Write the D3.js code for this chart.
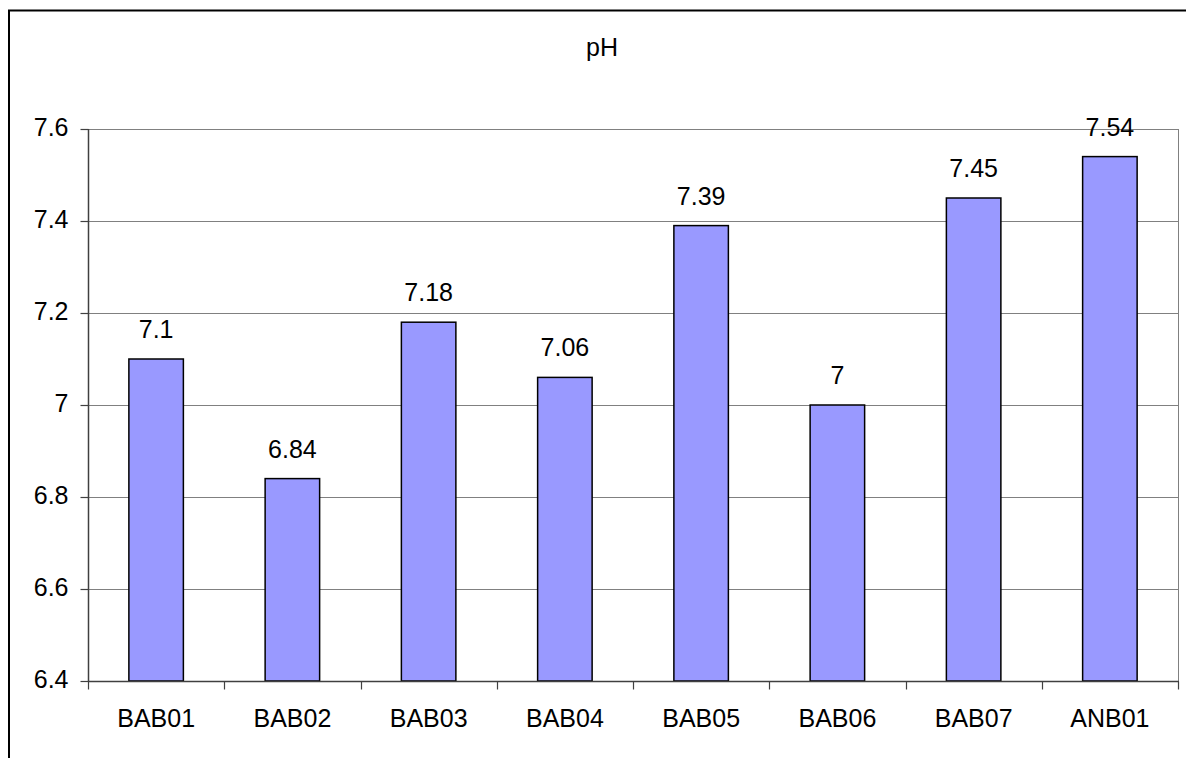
<!DOCTYPE html>
<html>
<head>
<meta charset="utf-8">
<script src="https://cdn.jsdelivr.net/npm/d3@7"></script>
<style>
  html, body { margin: 0; padding: 0; background: #fff; }
  svg { display: block; font-family: "Liberation Sans", Arial, sans-serif; }
</style>
</head>
<body>
<svg id="chart" width="1186" height="758"></svg>
<script>
// pH per sampling site
const sites = ["BAB01", "BAB02", "BAB03", "BAB04", "BAB05", "BAB06", "BAB07", "ANB01"];
const phValues = [7.1, 6.84, 7.18, 7.06, 7.39, 7, 7.45, 7.54];
const phLabels = ["7.1", "6.84", "7.18", "7.06", "7.39", "7", "7.45", "7.54"];
const yTicks = [6.4, 6.6, 6.8, 7, 7.2, 7.4, 7.6];
const yTickLabels = ["6.4", "6.6", "6.8", "7", "7.2", "7.4", "7.6"];
const chartTitle = "pH";

const svg = d3.select("#chart");
const W = 1186, H = 758;
const plot = { left: 88, top: 129, right: 1178, bottom: 681 };
const FS = 25;

// outer frame
svg.append("rect")
  .attr("x", 9).attr("y", 10.5)
  .attr("width", W + 10).attr("height", H + 10)
  .attr("fill", "#fff").attr("stroke", "#000").attr("stroke-width", 2);

svg.append("text")
  .attr("x", 602).attr("y", 56)
  .attr("text-anchor", "middle")
  .attr("font-size", FS)
  .text(chartTitle);

const x = d3.scaleBand().domain(sites).range([plot.left, plot.right]).paddingInner(0.6).paddingOuter(0.3);
const xOuter = d3.scaleBand().domain(sites).range([plot.left, plot.right]).padding(0);
const y = d3.scaleLinear().domain([6.4, 7.6]).range([plot.bottom, plot.top]);

// gridlines
svg.append("g").selectAll("line").data(yTicks.slice(1)).join("line")
  .attr("x1", plot.left).attr("x2", plot.right)
  .attr("y1", d => Math.round(y(d)) + 0.5).attr("y2", d => Math.round(y(d)) + 0.5)
  .attr("stroke", "#808080").attr("stroke-width", 1);

// right edge of plot area
svg.append("line")
  .attr("x1", plot.right + 0.5).attr("x2", plot.right + 0.5)
  .attr("y1", plot.top).attr("y2", plot.bottom)
  .attr("stroke", "#808080").attr("stroke-width", 1);

// bars
svg.append("g").selectAll("rect").data(sites).join("rect")
  .attr("x", (d) => x(d))
  .attr("width", x.bandwidth())
  .attr("y", (d, i) => y(phValues[i]))
  .attr("height", (d, i) => y(6.4) - y(phValues[i]))
  .attr("fill", "#9999FF")
  .attr("stroke", "#000").attr("stroke-width", 1.5);

// value labels
svg.append("g").selectAll("text").data(sites).join("text")
  .attr("x", d => x(d) + x.bandwidth() / 2)
  .attr("y", (d, i) => y(phValues[i]) - 21)
  .attr("text-anchor", "middle")
  .attr("font-size", FS)
  .text((d, i) => phLabels[i]);

// y axis
const yAxis = d3.axisLeft(y).tickValues(yTicks).tickFormat((d, i) => yTickLabels[i]).tickSize(8).tickPadding(12);
const gy = svg.append("g").attr("transform", `translate(${plot.left + 0.5},0)`).call(yAxis);
gy.select(".domain").attr("stroke", "#404040").attr("stroke-width", 1.5).attr("d", `M0,${plot.top}V${plot.bottom}`);
gy.selectAll(".tick line").attr("stroke", "#404040").attr("stroke-width", 1.2);
gy.selectAll(".tick text").attr("font-size", FS).attr("font-family", "Liberation Sans, Arial, sans-serif").attr("fill", "#000").attr("dy", "0.27em");

// x axis
const gx = svg.append("g").attr("transform", `translate(0,${plot.bottom + 0.5})`);
gx.append("line")
  .attr("x1", plot.left).attr("x2", plot.right + 1)
  .attr("stroke", "#404040").attr("stroke-width", 1.5);
const boundaries = sites.map(d => xOuter(d)).concat([plot.right]);
gx.selectAll("line.tick").data(boundaries).join("line")
  .attr("class", "tick")
  .attr("x1", d => Math.round(d) + 0.5).attr("x2", d => Math.round(d) + 0.5)
  .attr("y1", 0).attr("y2", 8)
  .attr("stroke", "#404040").attr("stroke-width", 1.2);
gx.selectAll("text").data(sites).join("text")
  .attr("x", d => xOuter(d) + xOuter.bandwidth() / 2)
  .attr("y", 45.5)
  .attr("text-anchor", "middle")
  .attr("font-size", FS)
  .text(d => d);
</script>
</body>
</html>
